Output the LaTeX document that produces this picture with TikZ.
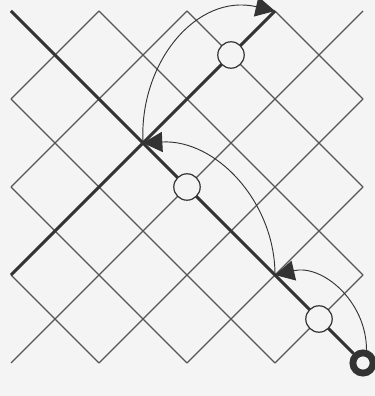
\documentclass[tikz,border=0pt]{standalone}
\usetikzlibrary{arrows.meta}
\definecolor{bg}{HTML}{F4F4F4}
\definecolor{ink}{HTML}{333333}
\definecolor{gridc}{HTML}{555555}
\begin{document}
\begin{tikzpicture}[x=1cm,y=1cm,
  gridline/.style={draw=gridc,line width=0.75pt},
  thickline/.style={draw=ink,line width=2pt},
  openc/.style={circle,draw=ink,line width=0.8pt,fill=bg,minimum size=0.6cm,inner sep=0pt},
  ringc/.style={circle,draw=ink,line width=4.4pt,fill=bg,minimum size=0.46cm,inner sep=0pt},
  jump/.style={draw=ink,line width=0.6pt,-{Triangle[length=12.5pt,width=13pt]}}]
\fill[bg] (-0.25,-0.75) rectangle (8.2727,8.25);
\useasboundingbox (-0.25,-0.75) rectangle (8.2727,8.25);
% grid of diagonal lines
\foreach \c in {2,4,6,8} \draw[gridline] (0,\c) -- (\c,0);
\foreach \c in {2,4,6} \draw[gridline] (\c,8) -- (8,\c);
\foreach \c in {0,2,4,6} \draw[gridline] (0,\c) -- ({8-\c},8);
\foreach \c in {2,4,6} \draw[gridline] (\c,0) -- (8,{8-\c});
% points
\coordinate (p0) at (0,8);
\coordinate (q) at (0,2);
\coordinate (p8) at (6,8);
\coordinate (p5) at (6,2);
\coordinate (p2) at (3,5);
\node[ringc] (ring) at (8,0) {};
% thick lines
\draw[thickline] (p0) -- (ring);
\draw[thickline] (q) -- (p8);
% circles
\node[openc] (c1) at (5,7) {};
\node[openc] (c2) at (4,4) {};
\node[openc] (c3) at (7,1) {};
% jumps
\draw[jump] (ring.75) to[out=90,in=13,looseness=1.05] (p5);
\draw[jump] (p5) to[out=90,in=3] (p2);
\draw[jump] (p2) to[out=93,in=167,looseness=1.1] (p8);
\end{tikzpicture}
\end{document}
